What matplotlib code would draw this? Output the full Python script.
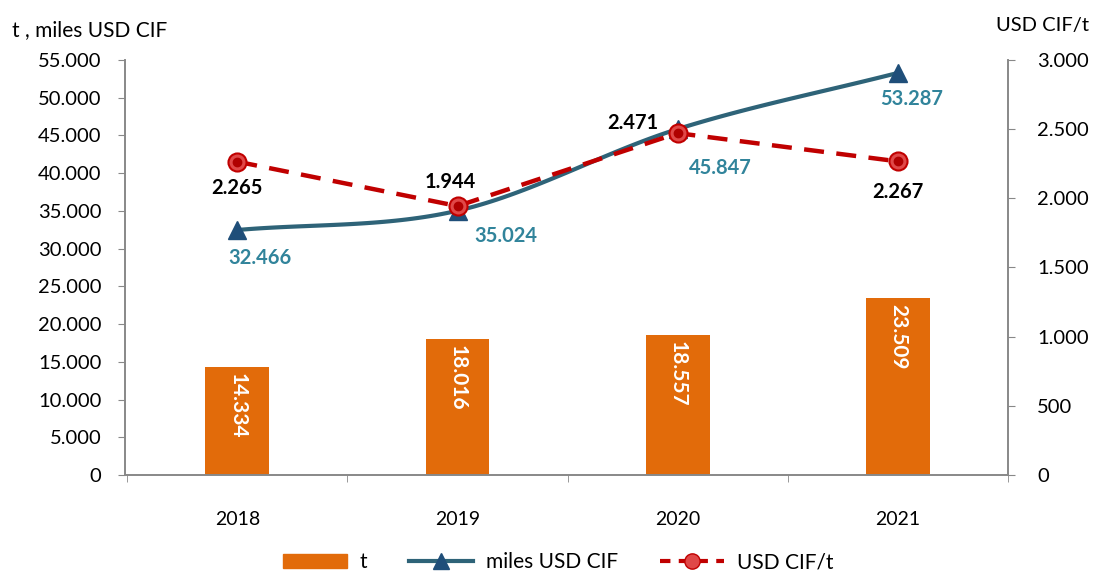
import matplotlib
matplotlib.use("Agg")
import matplotlib.pyplot as plt
from matplotlib.lines import Line2D
from matplotlib.patches import Patch
from matplotlib.ticker import FuncFormatter
import numpy as np

plt.rcParams['font.family'] = ['Lato', 'DejaVu Sans']

years = ['2018', '2019', '2020', '2021']
toneladas = [14334, 18016, 18557, 23509]
miles_usd = [32466, 35024, 45847, 53287]
usd_t = [2265, 1944, 2471, 2267]

bar_c = '#E26B0A'
line_c = '#2E6378'
tri_c = '#1F4E79'
lab_c = '#31849B'
red_c = '#C00000'


def dots(v, pos=None):
    return f'{int(v):,}'.replace(',', '.')


def smooth(x, y, n=40):
    # catmull-rom style curve like excel "smoothed line"
    x = np.asarray(x, float)
    y = np.asarray(y, float)
    px = np.concatenate([[2 * x[0] - x[1]], x, [2 * x[-1] - x[-2]]])
    py = np.concatenate([[2 * y[0] - y[1]], y, [2 * y[-1] - y[-2]]])
    xs, ys = [], []
    for i in range(1, len(px) - 2):
        t = np.linspace(0, 1, n)
        for p, out in ((px, xs), (py, ys)):
            p0, p1, p2, p3 = p[i - 1], p[i], p[i + 1], p[i + 2]
            out.extend(0.5 * ((2 * p1) + (-p0 + p2) * t
                              + (2 * p0 - 5 * p1 + 4 * p2 - p3) * t ** 2
                              + (-p0 + 3 * p1 - 3 * p2 + p3) * t ** 3))
    return np.array(xs), np.array(ys)


fig = plt.figure(figsize=(10.94, 5.75), dpi=100)
ax = fig.add_axes([0.1143, 0.1739, 0.8071, 0.7218])
ax2 = ax.twinx()

x = np.arange(len(years))
ax.bar(x, toneladas, width=0.29, color=bar_c, zorder=2)
for xi, v in zip(x, toneladas):
    ax.text(xi, v - 800, dots(v), rotation=270, ha='center', va='top',
            color='white', fontsize=15, fontweight='bold', zorder=3)

# the blue line goes on the secondary axes too so the red one can sit on top
sx, sy = smooth(x, miles_usd)
sy2 = sy * 3000 / 55000
ax2.plot(sx, sy2, color=line_c, lw=3, zorder=3)
ax2.plot(x, np.array(miles_usd) * 3000 / 55000, ls='none', marker='^', ms=13,
         color=tri_c, zorder=4)

ax.set_xlim(-0.51, 3.5)
ax.set_ylim(0, 55000)
ax.set_yticks(np.arange(0, 55001, 5000))
ax.yaxis.set_major_formatter(FuncFormatter(dots))
ax.set_xticks(x)
ax.set_xticklabels(years)
ax.set_xticks(np.arange(-0.5, 4, 1), minor=True)
ax.tick_params(axis='x', which='major', length=0, pad=26, labelsize=14)
ax.tick_params(axis='x', which='minor', length=5, color='#888888')
ax.tick_params(axis='y', length=5, color='#888888', labelsize=14.5, pad=12)

ax2.plot(x, usd_t, color=red_c, lw=3.2, ls=(0, (4.5, 2.8)), zorder=5)
ax2.plot(x, usd_t, ls='none', marker='o', ms=13, mfc='#E04848', mec=red_c,
         mew=1.5, zorder=6)
ax2.plot(x, usd_t, ls='none', marker='o', ms=6, color='#B00000', zorder=7)
ax2.set_ylim(0, 3000)
ax2.set_yticks(np.arange(0, 3001, 500))
ax2.yaxis.set_major_formatter(FuncFormatter(dots))
ax2.tick_params(axis='y', length=5, color='#888888', labelsize=14.5, pad=16)

for a in (ax, ax2):
    a.spines['top'].set_visible(False)
    for s in ('left', 'right', 'bottom'):
        a.spines[s].set_color('#888888')
        a.spines[s].set_linewidth(1.2)

# data labels
line_off = [(16, -20), (35, -18), (31, -28), (10, -19)]
for xi, v, (dx, dy) in zip(x, miles_usd, line_off):
    ax.annotate(dots(v), (xi, v), xytext=(dx, dy), textcoords='offset points',
                ha='center', va='center', color=lab_c, fontsize=14.5,
                fontweight='bold', zorder=8)
red_off = [(0, -19), (-5, 17), (-32, 7), (0, -22)]
for xi, v, (dx, dy) in zip(x, usd_t, red_off):
    ax2.annotate(dots(v), (xi, v), xytext=(dx, dy), textcoords='offset points',
                 ha='center', va='center', color='black', fontsize=14.5,
                 fontweight='bold', zorder=8)

fig.text(0.011, 0.948, 't , miles USD CIF', fontsize=15, ha='left', va='center')
fig.text(0.995, 0.955, 'USD CIF/t', fontsize=14.5, ha='right', va='center')

handles = [
    Patch(color=bar_c),
    Line2D([], [], color=line_c, lw=3, marker='^', ms=12, mfc=tri_c, mec=tri_c),
    Line2D([], [], color=red_c, lw=3, ls=(0, (2.5, 2)), marker='o', ms=11,
           mfc='#E04848', mec=red_c),
]
fig.legend(handles, ['t', 'miles USD CIF', 'USD CIF/t'], loc='center',
           bbox_to_anchor=(0.51, 0.022), ncol=3, frameon=False, fontsize=15,
           handlelength=3.1, columnspacing=2.0, handletextpad=0.6)

fig.savefig('out.png', dpi=100)
